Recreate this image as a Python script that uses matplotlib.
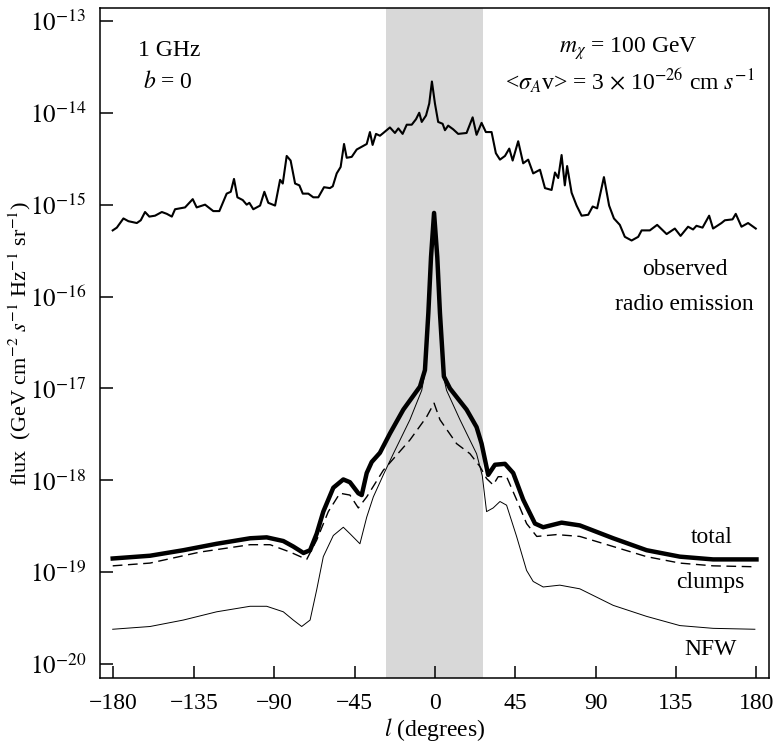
import numpy as np
import matplotlib
matplotlib.use("Agg")
import matplotlib.pyplot as plt

plt.rcParams['font.family'] = ['Liberation Serif', 'DejaVu Serif']
plt.rcParams['mathtext.fontset'] = 'stix'

# observed 1 GHz radio emission along b = 0
obs_l = [-180.4, -178.1, -174.4, -171.6, -166.9, -164.7, -162.3, -159.9, -156.7, -152.9,
         -150.1, -147.3, -145.5, -139.9, -135.6, -133.4, -128.7, -124.1, -120.7, -116.6,
         -114.3, -112.5, -110.6, -107.6, -105.4, -103.9, -101.7, -97.9, -95.5, -93.3,
         -89.5, -86.7, -85.2, -83.0, -80.8, -78.3, -75.9, -74.0, -70.9, -68.1,
         -65.3, -62.1, -58.8, -57.2, -55.0, -52.8, -50.9, -49.4, -46.6, -43.8,
         -41.0, -38.2, -36.4, -34.9, -33.0, -30.8, -28.9, -25.2, -22.4, -20.5,
         -18.1, -15.8, -13.0, -10.6, -8.8, -7.4, -5.0, -3.2, -1.7, 0.0,
         1.8, 4.3, 5.6, 7.4, 10.2, 13.0, 17.7, 21.1, 23.3, 26.1,
         28.5, 31.7, 34.1, 36.4, 39.2, 41.6, 43.5, 46.6, 49.4, 52.2,
         55.0, 58.8, 61.6, 65.3, 67.2, 69.0, 70.9, 72.7, 74.0, 76.5,
         79.3, 82.1, 85.8, 88.3, 90.8, 94.6, 97.5, 100.2, 103.5, 106.3,
         110.1, 113.8, 115.7, 120.3, 124.4, 129.7, 134.3, 137.5, 141.7, 144.5,
         146.4, 149.8, 153.5, 155.7, 160.4, 162.3, 166.6, 168.4, 171.6, 175.3,
         179.6]
obs_log = [-15.28, -15.25, -15.15, -15.18, -15.20, -15.17, -15.08, -15.13, -15.12, -15.08,
           -15.10, -15.13, -15.05, -15.03, -14.94, -15.03, -15.00, -15.07, -15.07, -14.88,
           -14.86, -14.72, -14.92, -14.95, -15.00, -14.98, -15.05, -15.01, -14.86, -14.98,
           -15.01, -14.73, -14.77, -14.47, -14.52, -14.77, -14.79, -14.88, -14.88, -14.92,
           -14.92, -14.81, -14.82, -14.80, -14.66, -14.59, -14.34, -14.49, -14.48, -14.40,
           -14.37, -14.34, -14.21, -14.35, -14.23, -14.25, -14.22, -14.16, -14.22, -14.17,
           -14.23, -14.13, -14.13, -14.07, -14.00, -14.10, -14.03, -13.90, -13.66, -13.90,
           -14.10, -14.12, -14.19, -14.14, -14.18, -14.23, -14.22, -14.05, -14.24, -14.11,
           -14.21, -14.21, -14.44, -14.51, -14.47, -14.39, -14.52, -14.31, -14.55, -14.51,
           -14.66, -14.62, -14.82, -14.84, -14.65, -14.71, -14.46, -14.79, -14.58, -14.87,
           -15.01, -15.12, -15.11, -15.02, -15.04, -14.70, -15.01, -15.15, -15.22, -15.35,
           -15.39, -15.35, -15.28, -15.28, -15.22, -15.32, -15.26, -15.34, -15.24, -15.27,
           -15.23, -15.25, -15.12, -15.26, -15.20, -15.17, -15.16, -15.10, -15.24, -15.20,
           -15.26]

# predicted synchrotron flux from annihilation: total = NFW halo + clumps
tot_l = [-180.4, -159.5, -140.9, -122.2, -103.5, -94.2, -84.9, -79.3, -73.6, -69.9,
         -66.2, -62.5, -56.9, -51.3, -47.6, -42.9, -41.0, -38.2, -35.4, -30.8,
         -25.2, -17.7, -8.4, -5.6, -3.7, -2.2, -0.5, 1.3, 2.8, 5.0,
         8.4, 17.7, 23.3, 26.1, 29.8, 33.6, 39.2, 43.8, 49.4, 56.0,
         60.6, 70.9, 81.1, 99.8, 118.5, 137.1, 155.7, 180.0]
tot_log = [-18.85, -18.82, -18.76, -18.69, -18.63, -18.62, -18.66, -18.72, -18.79, -18.76,
           -18.58, -18.34, -18.08, -17.99, -18.02, -18.14, -18.16, -17.92, -17.80, -17.70,
           -17.49, -17.23, -16.98, -16.80, -16.18, -15.57, -15.09, -15.57, -16.18, -16.87,
           -17.00, -17.23, -17.42, -17.60, -17.94, -17.83, -17.82, -17.92, -18.21, -18.47,
           -18.51, -18.46, -18.49, -18.63, -18.76, -18.83, -18.86, -18.86]

clu_l = [-180.4, -159.5, -131.5, -103.5, -92.3, -81.1, -71.8, -66.2, -59.7, -53.2,
         -47.6, -42.9, -38.2, -28.9, -14.0, -4.7, -0.5, 2.8, 12.1, 19.6,
         25.2, 28.9, 32.6, 35.4, 40.1, 45.7, 51.3, 57.0, 68.1, 81.1,
         99.8, 118.5, 137.1, 155.7, 179.0]
clu_log = [-18.93, -18.90, -18.78, -18.70, -18.70, -18.78, -18.86, -18.65, -18.34, -18.14,
           -18.16, -18.30, -18.18, -17.89, -17.56, -17.31, -17.16, -17.34, -17.60, -17.71,
           -17.85, -17.98, -18.05, -17.96, -17.96, -18.21, -18.47, -18.61, -18.59, -18.61,
           -18.72, -18.83, -18.90, -18.93, -18.94]

nfw_l = [-180.4, -159.5, -140.9, -122.2, -103.5, -94.2, -84.9, -79.3, -74.6, -69.9,
         -66.2, -62.5, -56.9, -51.3, -47.6, -42.0, -38.2, -34.5, -28.9, -23.3,
         -14.0, -7.4, -5.6, -3.7, -2.2, -0.5, 1.3, 2.8, 5.0, 6.5,
         14.0, 23.3, 26.5, 28.9, 32.6, 36.4, 40.1, 45.7, 51.3, 55.0,
         60.6, 69.9, 81.1, 99.8, 118.5, 137.1, 155.7, 179.1]
nfw_log = [-19.62, -19.59, -19.52, -19.43, -19.37, -19.37, -19.43, -19.52, -19.59, -19.52,
           -19.19, -18.83, -18.60, -18.51, -18.58, -18.69, -18.40, -18.18, -17.94, -17.71,
           -17.34, -17.02, -16.83, -16.19, -15.58, -15.10, -15.58, -16.19, -16.89, -17.02,
           -17.34, -17.71, -17.95, -18.34, -18.30, -18.23, -18.27, -18.61, -18.98, -19.10,
           -19.16, -19.14, -19.18, -19.36, -19.48, -19.58, -19.61, -19.62]

# excluded region around the Galactic centre
band = (-27.2, 27.0)

x_ticks = [-180, -135, -90, -45, 0, 45, 90, 135, 180]
x_ticklabels = ['\u2212180', '\u2212135', '\u221290', '\u221245', '0', '45', '90', '135', '180']
y_exps = [-20, -19, -18, -17, -16, -15, -14, -13]

fig = plt.figure(figsize=(7.73, 7.46), dpi=100)
ax = fig.add_axes([0.1294, 0.0912, 0.8654, 0.8981])

ax.axvspan(band[0], band[1], color='#d8d8d8', lw=0, zorder=0)

ax.plot(obs_l, 10 ** np.array(obs_log), color='black', lw=1.5)
ax.plot(tot_l, 10 ** np.array(tot_log), color='black', lw=3.2, solid_joinstyle='round')
ax.plot(clu_l, 10 ** np.array(clu_log), color='black', lw=1.0, dashes=(7, 4))
ax.plot(nfw_l, 10 ** np.array(nfw_log), color='black', lw=0.7)

ax.set_yscale('log')
ax.set_xlim(-187.5, 187.0)
ax.set_ylim(10 ** -20.15, 10 ** -12.86)

ax.set_xticks(x_ticks)
ax.set_xticklabels(x_ticklabels)
ax.set_yticks([10.0 ** e for e in y_exps])
ax.set_yticklabels([r'$10^{%d}$' % e for e in y_exps])
ax.yaxis.set_minor_locator(matplotlib.ticker.NullLocator())

ax.tick_params(axis='both', direction='in', length=9, width=1.1)
ax.tick_params(axis='x', pad=11, labelsize=17)
ax.tick_params(axis='y', pad=10, labelsize=18)
for s in ax.spines.values():
    s.set_linewidth(1.1)

ax.set_xlabel(r'$l$ (degrees)', fontsize=17, labelpad=1)
ax.set_ylabel(r'flux  (GeV cm$^{-2}$ $s^{-1}$ Hz$^{-1}$ sr$^{-1}$)', fontsize=16)
ax.yaxis.set_label_coords(-0.1, 0.5)

# annotations
tr = ax.transAxes
fs = 17
ax.text(0.103, 0.937, '1 GHz', transform=tr, fontsize=fs, ha='center', va='center')
ax.text(0.102, 0.889, r'$b$ = 0', transform=tr, fontsize=fs, ha='center', va='center')
ax.text(0.789, 0.94, r'$m_\chi$ = 100 GeV', transform=tr, fontsize=fs, ha='center', va='center')
ax.text(0.792, 0.892, r'<$\sigma_A$v> = 3 $\times$ 10$^{-26}$ cm $s^{-1}$', transform=tr,
        fontsize=fs, ha='center', va='center')
ax.text(0.874, 0.609, 'observed', transform=tr, fontsize=fs, ha='center', va='center')
ax.text(0.874, 0.557, 'radio emission', transform=tr, fontsize=fs, ha='center', va='center')
ax.text(0.914, 0.209, 'total', transform=tr, fontsize=fs, ha='center', va='center')
ax.text(0.912, 0.143, 'clumps', transform=tr, fontsize=fs, ha='center', va='center')
ax.text(0.913, 0.042, 'NFW', transform=tr, fontsize=fs, ha='center', va='center')

fig.savefig('out.png', dpi=100)
